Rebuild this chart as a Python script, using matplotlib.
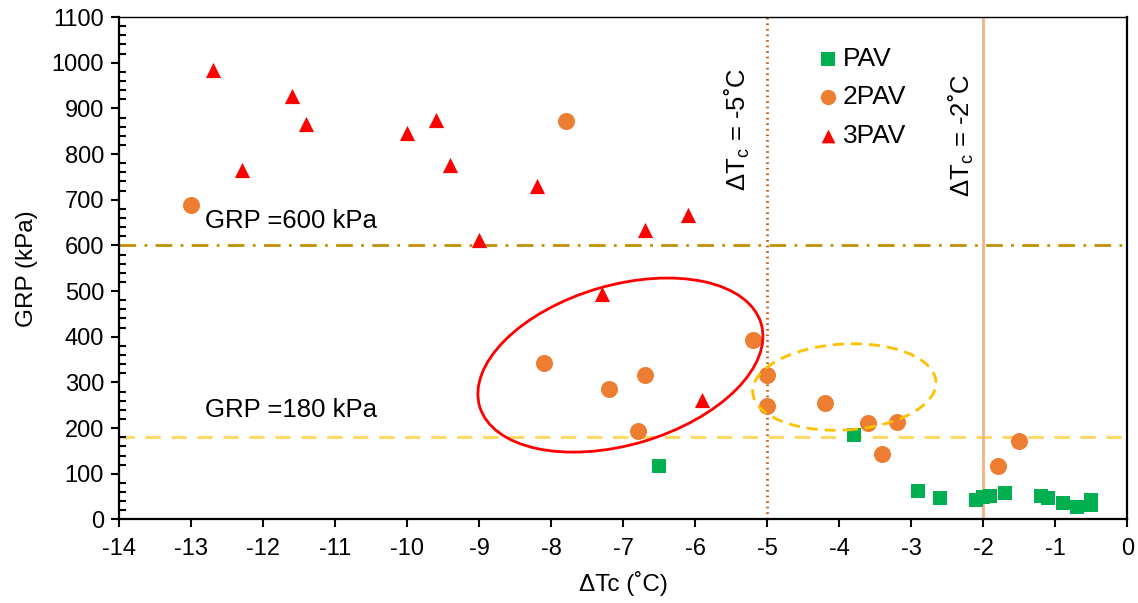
import numpy as np
import matplotlib
matplotlib.use("Agg")
from matplotlib import pyplot as plt
from matplotlib.patches import Ellipse
from matplotlib.transforms import ScaledTranslation

plt.rcParams['font.family'] = ['Liberation Sans', 'DejaVu Sans']
plt.rcParams['mathtext.fontset'] = 'custom'
plt.rcParams['mathtext.rm'] = 'Liberation Sans'
plt.rcParams['mathtext.default'] = 'regular'
plt.rcParams['axes.unicode_minus'] = False

# data
pav_x = [-6.5, -3.8, -2.9, -2.6, -2.1, -2.0, -1.9, -1.7, -1.2, -1.1, -0.9, -0.7, -0.5, -0.5]
pav_y = [118, 185, 63, 48, 43, 50, 51, 59, 52, 48, 35, 28, 42, 31]

pav2_x = [-13.0, -7.8, -8.1, -7.2, -6.7, -6.8, -5.2, -5.0, -5.0, -4.2, -3.6, -3.2, -3.4, -1.8, -1.5]
pav2_y = [688, 873, 343, 285, 317, 194, 394, 317, 249, 256, 212, 214, 144, 117, 172]

pav3_x = [-12.7, -12.3, -11.6, -11.4, -10.0, -9.6, -9.4, -9.0, -8.2, -7.3, -6.7, -6.1, -5.9]
pav3_y = [985, 766, 928, 865, 847, 874, 777, 611, 731, 493, 633, 666, 261]

grp_limits = [600, 180]
dtc_limits = [-5, -2]

fig = plt.figure(figsize=(11.38, 6.03), dpi=100)
ax = fig.add_axes([0.1048, 0.1385, 0.8858, 0.8333])

# reference lines
ax.axhline(grp_limits[0], color='#bf9000', lw=2, ls=(0, (6, 3, 1, 3)), zorder=1)
ax.axhline(grp_limits[1], color='#ffd966', lw=2.2, ls=(0, (5, 3.5)), zorder=1)
ax.axvline(dtc_limits[0], color='#c55a11', lw=2, ls=(0, (0.6, 1.4)), zorder=1)
ax.axvline(dtc_limits[1], color='#f4b183', lw=2, zorder=1)

ax.scatter(pav_x, pav_y, marker='s', s=110, color='#00b050', linewidths=0, label='PAV', zorder=3)
ax.scatter(pav2_x, pav2_y, marker='o', s=150, color='#ed7d31', linewidths=0, label='2PAV', zorder=3)
ax.scatter(pav3_x, pav3_y, marker='^', s=120, color='#ff0000', linewidths=0, label='3PAV', zorder=3)

# ellipses drawn in pixel units around a data-space centre
red_ell = Ellipse((0, 0), 2 * 1.467, 2 * 0.798, angle=16.4, fill=False,
                  edgecolor='#ff0000', lw=2,
                  transform=fig.dpi_scale_trans + ScaledTranslation(-7.04, 338, ax.transData),
                  zorder=4)
ax.add_patch(red_ell)
yel_ell = Ellipse((0, 0), 2 * 0.918, 2 * 0.43, angle=3.3, fill=False,
                  edgecolor='#ffc000', lw=2, ls=(0, (4, 2.5)),
                  transform=fig.dpi_scale_trans + ScaledTranslation(-3.93, 290, ax.transData),
                  zorder=4)
ax.add_patch(yel_ell)

ax.text(-12.81, 653, 'GRP =600 kPa', fontsize=18.5, va='center', ha='left')
ax.text(-12.81, 240, 'GRP =180 kPa', fontsize=18.5, va='center', ha='left')
ax.text(-5.42, 720, 'ΔT$_c$ = -5˚C', fontsize=18.5, rotation=90, ha='center', va='bottom')
ax.text(-2.30, 705, 'ΔT$_c$ = -2˚C', fontsize=18.5, rotation=90, ha='center', va='bottom')

ax.set_xlim(-14, 0)
ax.set_ylim(0, 1100)
ax.set_xticks(np.arange(-14, 1, 1))
ax.set_yticks(np.arange(0, 1101, 100))
ax.set_yticks(np.arange(0, 1101, 20), minor=True)
ax.tick_params(axis='both', which='major', direction='out', length=6, width=1.5, labelsize=17)
ax.tick_params(axis='x', which='major', pad=7)
ax.tick_params(axis='y', which='major', pad=5)
ax.tick_params(axis='y', which='minor', direction='in', length=5, width=1.5)
for sp in ['left', 'bottom', 'right']:
    ax.spines[sp].set_linewidth(1.6)
ax.spines['top'].set_linewidth(1.0)

ax.set_xlabel('ΔTc (˚C)', fontsize=17.5, labelpad=8)
ax.set_ylabel('GRP (kPa)', fontsize=17.5, labelpad=10)

ax.legend(loc='upper left', bbox_to_anchor=(0.68, 0.962), frameon=False, fontsize=19,
          handletextpad=0.05, labelspacing=0.55, borderaxespad=0, handlelength=1.0,
          markerscale=0.9)

fig.savefig('out.png', dpi=100)
